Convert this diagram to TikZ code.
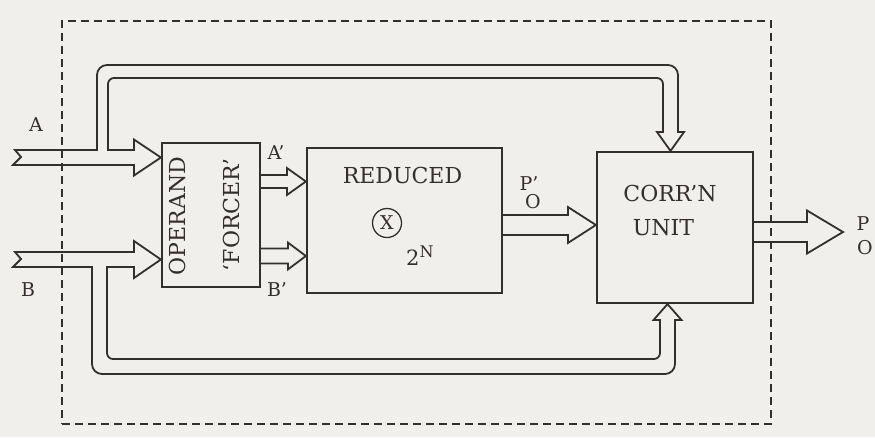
\documentclass[tikz,border=0pt]{standalone}
\usepackage{fontspec}
\setmainfont{DejaVu Serif}
\usetikzlibrary{calc}
\definecolor{ink}{RGB}{52,47,47}
\definecolor{paper}{RGB}{241,239,236}
\tikzset{
  frame/.style={draw=ink, line width=1.4pt, dash pattern=on 8pt off 5pt, inner sep=0pt},
  box/.style={draw=ink, line width=2.2pt, inner sep=0pt},
  conn/.style={draw=ink, line width=1.8pt, line join=miter},
  txt/.style={text=ink, inner sep=0pt, font=\fontsize{22}{26}\selectfont},
  lbl/.style={text=ink, inner sep=0pt, font=\fontsize{19}{22}\selectfont},
}
% horizontal hollow arrow: #1 tail point, #2 tip point, #3 shaft half width, #4 head half width, #5 head length
\newcommand\harrow[5]{%
  \draw[conn] let \p1=(#1), \p2=(#2) in
    (\x1,\y2+#3) -- (\x2-#5,\y2+#3) -- (\x2-#5,\y2+#4) -- (\x2,\y2)
    -- (\x2-#5,\y2-#4) -- (\x2-#5,\y2-#3) -- (\x1,\y2-#3);}
\begin{document}
\begin{tikzpicture}[x=1pt,y=-1pt]
\fill[paper] (0,0) rectangle (875,437);
\useasboundingbox (0,0) rectangle (875,437);

% dashed enclosure
\node[frame, minimum width=709pt, minimum height=403pt] (frm) at (416.5,222.5) {};

% blocks
\node[box, minimum width=98pt, minimum height=144pt] (op) at (211,215) {};
\node[box, minimum width=195pt, minimum height=145pt] (red) at (404.5,220.5) {};
\node[box, minimum width=156pt, minimum height=151pt] (cor) at (675,227.5) {};

% block texts
\node[txt, rotate=90] (opt1) at (177,216) {OPERAND};
\node[txt, rotate=90] (opt2) at (231,215) {‘FORCER’};
\node[txt] (redt) at (402.5,175) {REDUCED};
\node[circle, draw=ink, line width=1.3pt, minimum size=29pt, inner sep=0pt, text=ink,
      font=\fontsize{19}{22}\selectfont] (ox) at (387,223) {X};
\node[txt, anchor=base west] (twoN) at (406,265) {\fontsize{21}{24}\selectfont 2\raisebox{8pt}{\fontsize{16}{18}\selectfont N}};
\node[txt] (cort1) at (670,193) {CORR’N};
\node[txt] (cort2) at (663.5,228) {UNIT};

% signal labels
\node[lbl] (la) at (36,125) {A};
\node[lbl] (lb) at (28,290) {B};
\node[lbl] (lap) at (276,153) {A’};
\node[lbl] (lbp) at (277,290) {B’};
\node[lbl] (lpp) at (529,184) {P’};
\node[lbl] (lop) at (533,202) {O};
\node[lbl] (lpo) at (863,224) {P};
\node[lbl] (loo) at (865,248) {O};

% input tails and output tip
\coordinate (ina) at (15,157.5);
\coordinate (inb) at (15,259.5);
\coordinate (outtip) at (843,232);

% A input with loop to correction unit
\draw[conn] (ina |- 0,150) -- (21,157) -- (13,165) -- (134,165) -- (134,175.5)
  -- (op.west |- 0,157.5) -- (134,139.5) -- (134,150) -- (108,150) -- (108,84)
  .. controls (108,80.7) and (110.7,78) .. (114,78) -- (657,78)
  .. controls (660.3,78) and (663,80.7) .. (663,84) -- (663,132)
  -- (657,132) -- ($(cor.north)+(-4.5,0)$) -- (684,132) -- (678,132) -- (678,75)
  .. controls (678,69.5) and (673.5,65) .. (668,65) -- (107,65)
  .. controls (101.5,65) and (97,69.5) .. (97,75) -- (97,150) -- cycle;

% B input with loop to correction unit
\draw[conn] (inb |- 0,252) -- (21,259) -- (13,267) -- (92,267) -- (92,364)
  .. controls (92,369.5) and (96.5,374) .. (102,374) -- (665,374)
  .. controls (670.5,374) and (675,369.5) .. (675,364) -- (675,320)
  -- (681.5,320) -- ($(cor.south)+(-7.5,0)$) -- (653.5,320) -- (660,320) -- (660,353)
  .. controls (660,356.3) and (657.3,359) .. (654,359) -- (113,359)
  .. controls (109.7,359) and (107,356.3) .. (107,353) -- (107,267)
  -- (134,267) -- (134,278) -- (op.west |- 0,259.5) -- (134,241) -- (134,252) -- cycle;

% block-to-block arrows
\harrow{op.east |- 0,181.5}{red.west |- 0,181.5}{6.5}{13.5}{19}
\harrow{op.east |- 0,256}{red.west |- 0,256}{7.5}{13.5}{18}
\harrow{red.east |- 0,225}{cor.west |- 0,225}{10}{18}{28}
\harrow{cor.east |- outtip}{outtip}{10}{21.5}{36}
\end{tikzpicture}
\end{document}
